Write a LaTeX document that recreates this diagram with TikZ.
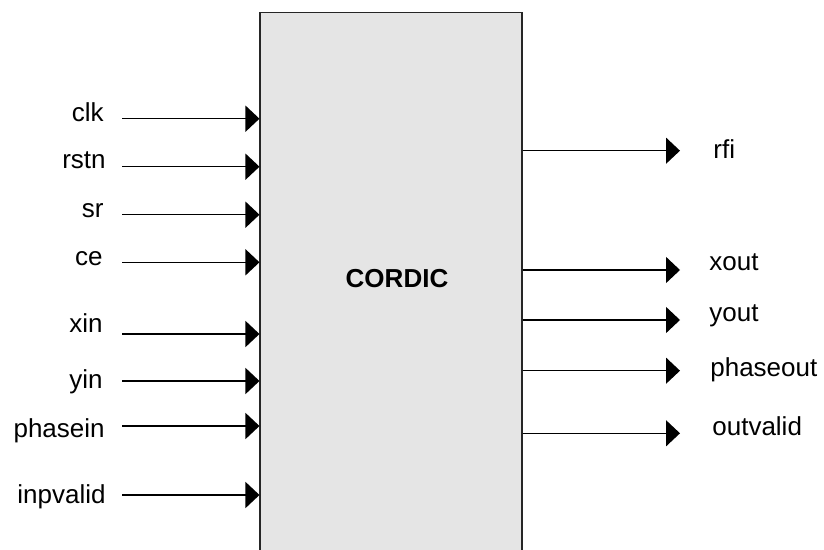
\documentclass[tikz,border=0pt]{standalone}
\usepackage{fontspec}
\setmainfont{Liberation Sans}
\usetikzlibrary{arrows.meta, calc}

\begin{document}
\begin{tikzpicture}%
	[x=0.02cm, y=-0.02cm,
	box/.style={draw=black!85, line width=0.6pt, fill=black!10!white, inner sep=0pt},
	sig/.style={line width=0.8pt, -{Triangle[length=0.28cm, width=0.52cm]}},
	lbl/.style={inner sep=0pt, font=\fontsize{14.8}{17}\selectfont}]
%
\clip (0,0) rectangle (824,550);
%
%% The block
%%
\node[box, minimum width=262*0.02cm, minimum height=568*0.02cm] (cordic) at (391,296.5) {};
\node[lbl, font=\fontsize{14.8}{17}\selectfont\bfseries] (title) at (397,279) {CORDIC};
%%
%% Input labels
%%
\node[lbl, anchor=base east] (clk) at (104,122) {clk};
\node[lbl, anchor=base east] (rstn) at (106,169) {rstn};
\node[lbl, anchor=base east] (sr) at (104,218) {sr};
\node[lbl, anchor=base east] (ce) at (103,265.5) {ce};
\node[lbl, anchor=base east] (xin) at (103,332) {xin};
\node[lbl, anchor=base east] (yin) at (103,388) {yin};
\node[lbl, anchor=base east] (phasein) at (105,437) {phasein};
\node[lbl, anchor=base east] (inpvalid) at (106,503) {inpvalid};
%%
%% Output labels
%%
\node[lbl, anchor=base west] (rfi) at (713,159) {rfi};
\node[lbl, anchor=base west] (xout) at (709,270.5) {xout};
\node[lbl, anchor=base west] (yout) at (709,321.5) {yout};
\node[lbl, anchor=base west] (phaseout) at (710,376.5) {phaseout};
\node[lbl, anchor=base west] (outvalid) at (712,435) {outvalid};
%%
%% Start and end points of the signal lines
%%
\coordinate (clk-s) at (122,118.7);
\coordinate (rstn-s) at (122,166.7);
\coordinate (sr-s) at (122,214.7);
\coordinate (ce-s) at (122,262.3);
\coordinate (xin-s) at (122,334);
\coordinate (yin-s) at (122,381);
\coordinate (phasein-s) at (122,426);
\coordinate (inpvalid-s) at (122,495);
\coordinate (rfi-e) at (680,150.7);
\coordinate (xout-e) at (680,270);
\coordinate (yout-e) at (680,320);
\coordinate (phaseout-e) at (680,370.7);
\coordinate (outvalid-e) at (680,433.3);
%%
%% Inputs
%%
\draw[sig] (clk-s) -- (clk-s -| cordic.west);
\draw[sig] (rstn-s) -- (rstn-s -| cordic.west);
\draw[sig] (sr-s) -- (sr-s -| cordic.west);
\draw[sig] (ce-s) -- (ce-s -| cordic.west);
\draw[sig] (xin-s) -- (xin-s -| cordic.west);
\draw[sig] (yin-s) -- (yin-s -| cordic.west);
\draw[sig] (phasein-s) -- (phasein-s -| cordic.west);
\draw[sig] (inpvalid-s) -- (inpvalid-s -| cordic.west);
%%
%% Outputs
%%
\draw[sig] (rfi-e -| cordic.east) -- (rfi-e);
\draw[sig] (xout-e -| cordic.east) -- (xout-e);
\draw[sig] (yout-e -| cordic.east) -- (yout-e);
\draw[sig] (phaseout-e -| cordic.east) -- (phaseout-e);
\draw[sig] (outvalid-e -| cordic.east) -- (outvalid-e);
%%
\end{tikzpicture}
\end{document}
